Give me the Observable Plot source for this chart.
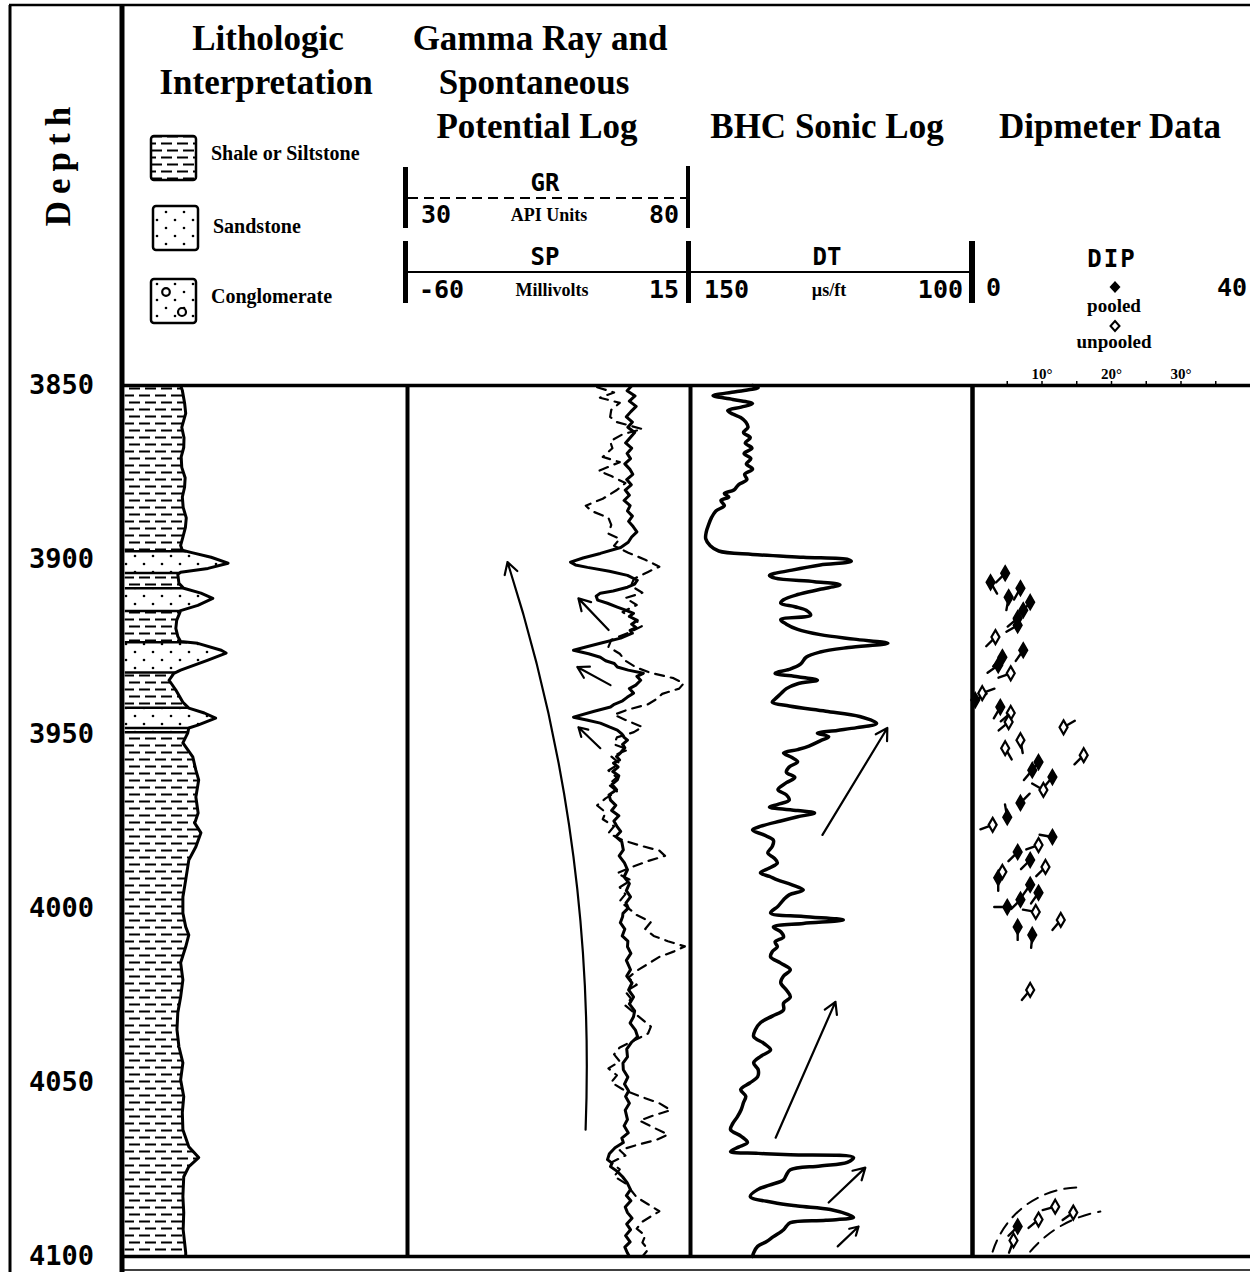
<!DOCTYPE html>
<html>
<head>
<meta charset="utf-8">
<script src="https://cdn.jsdelivr.net/npm/d3@7"></script>
<script src="https://cdn.jsdelivr.net/npm/@observablehq/plot@0.6"></script>
<style>
  html, body { margin: 0; padding: 0; background: #fff; }
  #chart { position: relative; width: 1250px; height: 1272px; overflow: hidden; background: #fff; }
  #chart > svg { position: absolute; top: 0; }
</style>
</head>
<body>
<div id="chart"></div>
<script>
// ---------------- DATA ----------------
const depthDomain = [3850, 4100];
const depthTicks = [3850, 3900, 3950, 4000, 4050, 4100];

// Lithologic interpretation: [depth ft, relative grain-size width]
const lithoCurve = [[3850,19.6],[3851.4,20.2],[3855,21.0],[3858,21.4],[3862,20.0],[3865,20.8],[3867.8,20.7],[3870.5,19.8],[3873.5,20.0],[3876.5,21.2],[3879.2,21.0],[3882,20.2],[3885,20.5],[3888,21.6],[3890.7,21.3],[3893.5,20.4],[3895.9,19.6],[3897.3,20.2],[3897.9,23.2],[3899.3,30.4],[3901.0,36.4],[3902.5,29.3],[3903.6,19.6],[3904.2,18.6],[3906.8,19.0],[3908.2,20.7],[3909.6,26.8],[3911.1,31.0],[3913.1,25.7],[3914.6,19.6],[3917.4,18.2],[3919.7,17.9],[3922,18.6],[3923.5,19.6],[3924,25.7],[3926,34],[3926.8,35.7],[3928.8,29.3],[3931.7,19.6],[3932.6,17.2],[3934.6,15.5],[3937.4,17.9],[3940.9,20.4],[3942.6,22.5],[3944,28],[3945.5,32],[3947.5,25.7],[3948.3,22.5],[3949.8,22.1],[3952.6,20.4],[3956.6,23.9],[3960.4,25],[3963.2,26],[3968.1,25],[3972.7,25.8],[3975.6,24.6],[3978.4,26.8],[3982.4,25],[3986.2,22.5],[3991.9,21.4],[3996.8,20.4],[4001.4,20.4],[4005.4,21.4],[4007.7,22.5],[4011.1,21.4],[4015.7,19.6],[4020.6,20.4],[4025.5,19.6],[4030,18.6],[4034.9,18.3],[4039.8,19],[4044.4,20.4],[4049.3,19.6],[4054.1,20.7],[4058.7,20.2],[4063.6,20.4],[4068.5,22.5],[4071.6,26],[4074.2,22.5],[4077.1,20.7],[4082.8,20.4],[4087.4,20.7],[4092.3,20.5],[4098.9,21.4],[4100,21.4]];
const lithoBedTops  = [3850, 3897.6, 3903.8, 3908.2, 3914.7, 3923.7, 3932.4, 3942.5, 3949.5];
const lithoBedTypes = ["shale","sand","shale","sand","shale","sand","shale","sand","shale"];
const lithoBoundaries = [3897.6, 3903.8, 3908.2, 3914.7, 3923.7, 3932.4, 3942.5, 3948.3, 3949.5];

// Spontaneous potential (mV): [depth, SP]
const spLog = [[3850,-0.5],[3851.5,-1.8],[3853,0.3],[3854.5,-1.2],[3856,0.6],[3857.5,-0.8],[3859,-2.0],[3860.5,-0.4],[3862,-1.6],[3863.5,0.2],[3865,-1.0],[3866.5,-2.2],[3868,-0.6],[3869.5,-1.8],[3871,-0.9],[3872.5,-2.4],[3874,-1.1],[3875.5,-0.3],[3877,-1.9],[3878.5,-0.7],[3880,-2.3],[3881.5,-1.2],[3883,-2.6],[3884.5,-1.0],[3886,-1.7],[3887.5,-0.4],[3889,-1.4],[3890.5,-0.2],[3892,0.8],[3893.5,-0.6],[3895,-1.5],[3896.5,-3.5],[3898.2,-8.9],[3899.5,-13.5],[3900.7,-16.8],[3901.5,-15.5],[3902.2,-12.3],[3903.3,-6.5],[3904.5,-1.7],[3905.9,0.9],[3907,0.2],[3907.9,-1.7],[3909,-5.5],[3909.6,-8.9],[3910.5,-10.0],[3911.6,-9.6],[3912.5,-7.0],[3913.6,-4.4],[3914.5,-2.2],[3915.4,-0.1],[3916.3,-1.2],[3917.4,0.9],[3918.5,-0.6],[3919.5,0.6],[3920.3,-1.0],[3921.1,-0.4],[3922.5,-3.5],[3924.0,-8.9],[3925,-12.5],[3926.0,-16.0],[3927,-12.0],[3928.0,-8.9],[3929,-7.5],[3929.8,-5.2],[3930.8,-4.4],[3931.7,-1.5],[3932.6,2.5],[3933.5,0.8],[3934.6,1.8],[3936,0.5],[3937,-1.2],[3938.3,-0.1],[3939.5,-1.8],[3940.5,-3.0],[3941.5,-5.2],[3942.3,-6.2],[3943.5,-10.5],[3945.2,-16.0],[3946,-12.5],[3946.9,-8.9],[3948,-6.5],[3948.9,-4.4],[3950,-3.2],[3951,-2.6],[3951.8,-1.7],[3953,-3.0],[3954,-2.4],[3955.5,-3.6],[3956.5,-4.6],[3957.5,-3.8],[3958.4,-5.4],[3959.5,-4.2],[3960.8,-5.6],[3962,-4.0],[3963.2,-4.4],[3964.5,-5.8],[3966,-4.6],[3967.5,-6.6],[3969,-6.2],[3970.5,-4.8],[3972,-5.9],[3973.5,-4.0],[3975,-5.3],[3976.7,-4.4],[3978,-3.5],[3979.5,-4.8],[3981,-3.2],[3983.3,-2.8],[3985,-3.9],[3987,-2.5],[3989,-1.7],[3991,-2.6],[3993,-1.2],[3995,-2.0],[3996.8,-0.9],[3998.5,-2.1],[4000,-1.5],[4001.5,-2.9],[4002.5,-3.0],[4004.2,-3.6],[4006,-2.4],[4008,-3.1],[4009.5,-1.6],[4011.1,-1.7],[4013,-0.8],[4015,-2.0],[4017.7,-0.9],[4019.5,-1.9],[4021.5,-0.5],[4023.5,-1.4],[4025.5,-0.1],[4027.5,-1.2],[4029.5,0.2],[4031.2,-0.1],[4033,-1.0],[4035,0.4],[4036.9,1.0],[4038.5,-0.6],[4040.5,-1.9],[4042.7,-1.7],[4044.5,-2.9],[4046.4,-2.8],[4048.5,-1.6],[4050.5,-2.5],[4052.5,-1.4],[4054.1,-2.2],[4056,-1.2],[4058,-2.3],[4060.7,-1.7],[4062.5,-2.6],[4064.5,-1.5],[4066,-3.2],[4067.3,-2.8],[4068.8,-5.0],[4070.5,-6.5],[4072.2,-7.0],[4073.2,-5.8],[4074.2,-6.2],[4075.5,-4.5],[4077.1,-3.0],[4078.8,-1.8],[4080.8,-0.9],[4082.5,-2.0],[4084,-0.8],[4085.8,-2.3],[4087.4,-1.7],[4089,-0.5],[4090.7,-1.9],[4092.3,-0.9],[4094,-2.2],[4095.8,-1.0],[4097.3,-2.4],[4099,-1.7],[4100,-1.2]];

// Gamma ray (API units): [depth, GR]
const grLog = [[3850.5,63.5],[3852,66.5],[3853.5,64],[3855,67.5],[3857,66],[3859,65.8],[3860.5,67],[3862.5,71.5],[3864,68],[3866,65.8],[3868,66.2],[3870.5,64.5],[3872,67.5],[3874.5,63.8],[3876,66],[3878,68.5],[3880,67],[3882.5,64.5],[3884.5,61.5],[3886,62.5],[3888,65.5],[3890,66],[3892.5,65.5],[3894,67.5],[3896,66.5],[3898,69],[3900,72],[3902,74.5],[3903.5,72.5],[3905.5,70],[3907.5,69.5],[3909.5,71.5],[3911,68.5],[3913,70.5],[3915,68],[3917,70],[3919,71.5],[3921,69],[3923,66],[3925,65.5],[3927,67.5],[3929,68.5],[3931,70.5],[3932.5,73],[3934,77],[3935.5,78.8],[3937,78],[3938.5,75],[3940,74],[3941.5,72.5],[3943,69],[3944.5,66.5],[3946,68.5],[3948,71.5],[3949.5,70],[3951,67],[3953,66.5],[3954.5,69],[3956.5,66],[3958.5,67.5],[3960.5,65.5],[3962.5,67],[3964.5,65.5],[3966.5,67],[3968.5,65],[3970.5,63.5],[3972.5,65],[3974.5,64.5],[3976.5,66.5],[3978.5,65.5],[3980.5,68],[3982,71],[3983.5,74.5],[3985,75.5],[3986.5,72.5],[3988,70],[3990,67],[3992,69.5],[3994,67.5],[3996,68.5],[3998,67.5],[4000,69],[4002,70.5],[4004,73],[4006,72],[4008,73.5],[4009.5,76],[4011,79],[4012.5,77],[4014,74.5],[4016,72.5],[4018,70.5],[4020,69],[4022,70.5],[4024,68.5],[4026,69.5],[4028,68.5],[4030,70],[4032,71.5],[4034,73],[4036,72.5],[4038,70],[4040,67.5],[4042,66.5],[4044,67.5],[4046,65.5],[4048,67],[4050,66],[4052,68],[4054,71],[4056,74.5],[4058,76.5],[4059.5,73.5],[4061,71],[4063,73.5],[4065,76],[4066.5,74],[4068,70.5],[4069.5,67.5],[4071,68.5],[4073,66],[4075,67.5],[4077,66.5],[4079,68.5],[4081,69.5],[4083,70.5],[4085,72.5],[4087,74.5],[4088.5,73],[4090,71.5],[4092,70.5],[4094,72],[4096,71.5],[4098,72.5],[4100,71.5]];

// BHC sonic interval transit time (µs/ft): [depth, DT]
const dtLog = [[3850,139],[3850.6,138],[3851.8,142],[3852.9,146],[3854,142.5],[3855.2,139],[3856.2,141],[3857.2,143.4],[3858.2,142.5],[3859.2,141.1],[3860.5,140.2],[3862,139.8],[3863.5,140.6],[3865,139.4],[3866.5,140.3],[3868,139.1],[3869.5,140.5],[3871,139.3],[3872.5,140.1],[3874,139],[3875.5,140.4],[3877,140.0],[3878.5,141.5],[3880,142.3],[3881,144],[3882,143.2],[3883,144.6],[3884.5,144.0],[3886,145.5],[3888,146.3],[3890,146.8],[3892,147.2],[3894,147.3],[3896,146.5],[3897.5,145],[3898.5,139],[3899.3,130],[3900,122],[3900.5,121.5],[3901.5,127],[3903,132],[3904.5,136],[3905.3,135],[3906.3,128],[3907.2,123.5],[3908.5,127],[3910,131],[3911.5,133.5],[3912.5,134],[3913.5,131.5],[3914.5,129.5],[3915.9,128.7],[3917.2,134],[3918.5,133],[3920,131],[3921.5,127],[3922.8,121],[3924,115],[3925.2,122],[3926.5,127],[3928,129.5],[3930,130.5],[3931.5,132.5],[3932.6,135],[3933.6,131],[3934.6,127.5],[3935.6,131],[3937,133],[3938.5,134],[3940,135],[3940.9,135.5],[3942,132.5],[3943.5,126],[3945,120],[3947,117],[3948.2,120.5],[3949,124],[3949.8,127.5],[3950.8,125.5],[3952,127],[3953.5,129],[3954.5,131],[3955.5,133.5],[3956.8,132],[3958,131],[3959.5,132.5],[3961,133],[3962.5,131.5],[3964,133],[3966,134.5],[3967.5,133],[3969,132.5],[3970.2,134.5],[3971,136],[3972,131],[3972.7,128],[3973.8,131],[3975,134],[3976.5,137.5],[3977.6,139],[3979,137],[3980.5,135.3],[3982.3,135.5],[3984.2,136.3],[3985.6,135.2],[3987,134.6],[3988.5,136],[3989.9,137.6],[3990.9,136],[3991.9,134.6],[3993.3,132],[3994.8,130],[3996.2,132.5],[3997.6,133.5],[3999.5,134.5],[4001.4,135.8],[4002.4,130],[4003.4,122.9],[4004.4,130],[4005.4,135.3],[4006.8,134],[4008.3,133.5],[4009.7,135],[4011.1,134.6],[4012.5,135.5],[4014,135.8],[4015.8,134],[4017.7,132.3],[4019.5,133.5],[4021.4,134],[4023.5,133],[4025.5,132.3],[4027.3,133.5],[4029.2,133.5],[4031,135.5],[4032.9,137.6],[4034.9,138.5],[4036.9,138.8],[4038.8,137],[4040.7,135.8],[4042.5,137.5],[4044.4,138.8],[4046.4,138],[4048.4,138.1],[4050.2,139.5],[4052.1,141.1],[4054,140.2],[4055.8,140.6],[4057.8,141],[4059.9,141.7],[4061.8,142.5],[4063.6,142.9],[4065.5,141],[4067.3,139.9],[4068.6,141.5],[4069.9,142.9],[4070.4,138],[4070.8,132.3],[4071.6,121.1],[4073,122.2],[4074,127],[4075.1,132.3],[4076.6,133],[4078,133.5],[4079.5,136],[4080.8,138.1],[4082.8,139.4],[4084.5,135.3],[4085.5,131],[4086.5,125.2],[4088,122],[4088.8,121.1],[4089.6,126],[4090.3,132.3],[4091.3,133],[4092.3,133.5],[4094.3,135.3],[4095.7,136.5],[4097.1,138.1],[4098.9,138.8],[4100,139]];

// Dipmeter tadpoles: [depth, dip°, azimuth° (tail direction)]
const pooledDips = [[3903.9,4.7,225],[3906.5,2.6,150],[3908.2,6.9,210],[3910.8,5.2,190],[3912.2,8.3,220],[3914.5,7.3,225],[3916.8,6.5,230],[3918.8,6.5,240],[3926.0,7.3,215],[3928.0,4.3,225],[3930.3,3.7,235],[3940.3,0.4,60],[3942.3,4.0,210],[3958.1,9.5,220],[3960.4,8.6,220],[3962.4,11.5,220],[3969.8,6.9,45],[3973.9,5.0,350],[3979.6,11.5,280],[3983.9,6.5,225],[3986.2,8.3,225],[3991.3,3.7,180],[3993.3,8.3,215],[3995.6,9.5,215],[3997.6,6.9,225],[3999.7,5.0,270],[4005.4,6.5,180],[4007.7,8.6,185],[4091.4,6.5,225]];
const unpooledDips = [[3922.2,3.3,225],[3932.6,5.5,250],[3938.3,1.4,70],[3944.0,5.5,230],[3946.6,5.2,230],[3948.1,13.1,60],[3951.8,6.9,170],[3954.1,4.7,150],[3956.1,16.0,225],[3966.1,10.2,300],[3976.1,2.9,250],[3981.9,9.5,250],[3988.2,10.5,225],[3989.6,4.3,200],[4001.1,9.1,280],[4003.4,12.7,220],[4023.5,8.3,220],[4095.4,5.9,200],[4089.4,9.5,230],[4085.7,11.9,255],[4087.4,14.5,235]];
const dipTicks = [5, 10, 15, 20, 25, 30, 35];
const dipTickLabels = [10, 20, 30];

// Interpretation arrows: [depth1, value1, depth2, value2]
const spTrendArrow = [[4063.6,-12.8,3900.7,-33.5]];
const spArrows = [[3920.2,-6.7,3911.1,-14.7],[3936.0,-6.2,3930.8,-15.0],[3954.1,-8.9,3948.1,-14.7]];
const dtArrows = [[3979.0,126.6,3948.3,115.1],[4065.9,134.9,4026.9,124.3],[4084.5,125.5,4074.5,119.0],[4097.1,123.9,4091.4,120.2]];
const dipArcOuter = [[4098.6,2.9,4080.2,15.8]];
const dipArcInner = [[4098.6,8.3,4087.1,18.4]];

// ---------------- LAYOUT ----------------
const SERIF = '"Liberation Serif","DejaVu Serif",serif';
const MONO = '"DejaVu Sans Mono","Liberation Mono",monospace';
const W = 1250, H = 1272, MT = 385, MB = 16;
const chart = document.getElementById("chart");

// header / decoration layer
const hdr = d3.create("svg").attr("width", W).attr("height", H).style("left", "0px");
hdr.append("defs").html(`
  <pattern id="shalePat" width="16" height="14" patternUnits="userSpaceOnUse">
    <rect width="16" height="14" fill="white"/>
    <path d="M1 3.5H12 M7 10.5H16 M0 10.5H2" stroke="black" stroke-width="1.8"/>
  </pattern>
  <pattern id="sandPat" width="18" height="16" patternUnits="userSpaceOnUse">
    <rect width="18" height="16" fill="white"/>
    <circle cx="4" cy="4" r="1.3" fill="black"/><circle cx="13" cy="12" r="1.3" fill="black"/>
  </pattern>`);
chart.appendChild(hdr.node());

function txt(s, x, y, o = {}) {
  const t = hdr.append("text").attr("x", x).attr("y", y)
    .attr("font-size", o.size || 20).attr("font-family", o.family || SERIF)
    .attr("font-weight", o.weight || "bold").attr("text-anchor", o.anchor || "middle")
    .attr("dominant-baseline", o.baseline || "central").text(s);
  if (o.spacing) t.attr("letter-spacing", o.spacing);
  if (o.rotate) t.attr("transform", `rotate(${o.rotate},${x},${y})`);
  return t;
}
function rect(x, y, w, h) { hdr.append("rect").attr("x", x).attr("y", y).attr("width", w).attr("height", h).attr("fill", "#000"); }
function line(x1, y1, x2, y2, sw, dash) {
  const l = hdr.append("line").attr("x1", x1).attr("y1", y1).attr("x2", x2).attr("y2", y2).attr("stroke", "#000").attr("stroke-width", sw);
  if (dash) l.attr("stroke-dasharray", dash);
}

// page borders
line(10, 5, 10, H, 3);
line(9, 5, W, 5, 2.5);
line(122, 5, 122, H, 5);
line(122, 1270, W, 1270, 1.5);

// column titles
const T = 35;
txt("Depth", 58, 163, {size: T, rotate: -90, spacing: 7});
txt("Lithologic", 268, 50, {size: T, baseline: "alphabetic"});
txt("Interpretation", 266, 94, {size: T, baseline: "alphabetic"});
txt("Gamma Ray and", 540, 50, {size: T, baseline: "alphabetic"});
txt("Spontaneous", 534, 94, {size: T, baseline: "alphabetic"});
txt("Potential Log", 537, 138, {size: T, baseline: "alphabetic"});
txt("BHC Sonic Log", 827, 138, {size: T, baseline: "alphabetic"});
txt("Dipmeter Data", 1110, 138, {size: T, baseline: "alphabetic"});

// lithology legend
function swatch(x, y, fill) {
  hdr.append("rect").attr("x", x).attr("y", y).attr("width", 45).attr("height", 44).attr("rx", 3)
    .attr("fill", fill).attr("stroke", "#000").attr("stroke-width", 2.5);
}
swatch(151, 136, "url(#shalePat)");
swatch(153, 206, "url(#sandPat)");
swatch(151, 279, "url(#sandPat)");
hdr.append("circle").attr("cx", 166).attr("cy", 292).attr("r", 3.8).attr("fill", "white").attr("stroke", "#000").attr("stroke-width", 2.2);
hdr.append("circle").attr("cx", 182).attr("cy", 312).attr("r", 4).attr("fill", "white").attr("stroke", "#000").attr("stroke-width", 2.2);
txt("Shale or Siltstone", 211, 153, {size: 20, anchor: "start"});
txt("Sandstone", 213, 226, {size: 20, anchor: "start"});
txt("Conglomerate", 211, 296, {size: 20, anchor: "start"});

// GR scale
rect(403, 167, 5, 61); rect(686, 166, 4, 62);
line(408, 198, 686, 198, 1.8, "10,6");
txt("GR", 545, 183, {size: 24, family: MONO});
txt("30", 421, 214, {size: 25, family: MONO, anchor: "start"});
txt("API Units", 549, 215, {size: 18});
txt("80", 679, 214, {size: 25, family: MONO, anchor: "end"});
// SP / DT scale
rect(403, 241, 5, 62); rect(686, 241, 5, 62); rect(969, 241, 6, 62);
line(408, 272, 969, 272, 2.2);
txt("SP", 545, 257, {size: 24, family: MONO});
txt("-60", 419, 289, {size: 25, family: MONO, anchor: "start"});
txt("Millivolts", 552, 290, {size: 18});
txt("15", 679, 289, {size: 25, family: MONO, anchor: "end"});
txt("DT", 827, 257, {size: 24, family: MONO});
txt("150", 704, 289, {size: 25, family: MONO, anchor: "start"});
txt("\u00b5s/ft", 829, 290, {size: 18});
txt("100", 963, 289, {size: 25, family: MONO, anchor: "end"});
// DIP legend
txt("DIP", 1112, 259, {size: 24, family: MONO, spacing: 2});
txt("0", 986, 287, {size: 25, family: MONO, anchor: "start"});
txt("40", 1247, 287, {size: 25, family: MONO, anchor: "end"});
hdr.append("path").attr("d", "M1115,281 L1120.5,287 L1115,293 L1109.5,287 Z").attr("fill", "#000");
txt("pooled", 1114, 305, {size: 19});
hdr.append("path").attr("d", "M1115,321 L1119.5,326 L1115,331 L1110.5,326 Z").attr("fill", "white").attr("stroke", "#000").attr("stroke-width", 2);
txt("unpooled", 1114, 341, {size: 19});

// ---------------- TRACKS (Observable Plot) ----------------
function track(left, width, xDomain, marks) {
  const svg = Plot.plot({
    width, height: H, marginTop: MT, marginBottom: MB, marginLeft: 0, marginRight: 0,
    x: {domain: xDomain, axis: null},
    y: {domain: depthDomain, reverse: true, axis: null},
    style: {background: "transparent", overflow: "visible", fontFamily: SERIF},
    marks
  });
  svg.style.left = left + "px";
  svg.style.top = "0px";
  chart.appendChild(svg);
}
const frameRules = (xDomain) => [
  Plot.ruleY([depthDomain[0], depthDomain[1]], {y: d => d, strokeWidth: 3.5}),
  Plot.ruleX([xDomain[1]], {x: d => d, strokeWidth: 4})
];

// Depth labels
track(0, 122, [0, 1], [
  Plot.text(depthTicks, {y: d => d, frameAnchor: "middle", text: d => String(d), fontSize: 27, fontWeight: "bold", fontFamily: MONO})
]);

// Lithology
function interp(curve, d) {
  for (let i = 0; i < curve.length - 1; i++) {
    const [d0, v0] = curve[i], [d1, v1] = curve[i + 1];
    if (d >= d0 && d <= d1) return d1 === d0 ? v0 : v0 + (v1 - v0) * (d - d0) / (d1 - d0);
  }
  return curve[curve.length - 1][1];
}
function bedPoints(top, bottom) {
  return [[top, interp(lithoCurve, top)], ...lithoCurve.filter(p => p[0] > top && p[0] < bottom), [bottom, interp(lithoCurve, bottom)]];
}
const lithoDomain = [-1, 100];
track(122, 285, lithoDomain, [
  ...lithoBedTops.map((top, i) => {
    const bottom = i + 1 < lithoBedTops.length ? lithoBedTops[i + 1] : depthDomain[1];
    return Plot.areaX(bedPoints(top, bottom), {y: d => d[0], x1: () => 0, x2: d => d[1], fill: `url(#${lithoBedTypes[i]}Pat)`});
  }),
  Plot.ruleY(lithoBoundaries, {y: d => d, x1: () => 0, x2: d => interp(lithoCurve, d), strokeWidth: 2.5}),
  Plot.lineX(lithoCurve, {x: d => d[1], y: d => d[0], strokeWidth: 3, strokeLinejoin: "round"}),
  ...frameRules(lithoDomain)
]);

// SP + GR (two scales, overlaid tracks)
const spDomain = [-60, 15], grDomain = [30, 80];
track(407, 283, spDomain, [
  Plot.lineX(spLog, {x: d => d[1], y: d => d[0], strokeWidth: 3, strokeLinejoin: "round"}),
  Plot.arrow(spTrendArrow, {x1: d => d[1], y1: d => d[0], x2: d => d[3], y2: d => d[2], bend: -10, strokeWidth: 2.2, headLength: 9}),
  Plot.arrow(spArrows, {x1: d => d[1], y1: d => d[0], x2: d => d[3], y2: d => d[2], strokeWidth: 2.2, headLength: 9}),
  ...frameRules(spDomain)
]);
track(407, 283, grDomain, [
  Plot.lineX(grLog, {x: d => d[1], y: d => d[0], strokeWidth: 2.2, strokeDasharray: "9,7"})
]);

// Sonic
const dtDomain = [150, 100];
track(690, 282, dtDomain, [
  Plot.lineX(dtLog, {x: d => d[1], y: d => d[0], strokeWidth: 3.5, curve: "catmull-rom", strokeLinejoin: "round"}),
  Plot.arrow(dtArrows, {x1: d => d[1], y1: d => d[0], x2: d => d[3], y2: d => d[2], strokeWidth: 2.2, headLength: 9}),
  ...frameRules(dtDomain)
]);

// Dipmeter
const dipDomain = [0, 40];
const tail = {draw(context, l) { context.moveTo(0, 0); context.lineTo(0, -l); }};
const dipSvg = Plot.plot({
  width: 278, height: H, marginTop: MT, marginBottom: MB, marginLeft: 0, marginRight: 0,
  x: {domain: dipDomain},
  y: {domain: depthDomain, reverse: true, axis: null},
  style: {background: "transparent", overflow: "visible", fontFamily: SERIF},
  marks: [
    Plot.axisX({anchor: "top", ticks: dipTicks, tickSize: 5, label: null, tickFormat: () => "", strokeWidth: 1.5}),
    Plot.text(dipTickLabels, {x: d => d, frameAnchor: "top", dy: -17, text: d => d + "\u00b0", fontSize: 15, fontWeight: "bold", fontFamily: SERIF}),
    Plot.ruleY([depthDomain[0], depthDomain[1]], {y: d => d, strokeWidth: 3.5}),
    Plot.ruleX([dipDomain[0]], {x: d => d, strokeWidth: 4}),
    Plot.vector([...pooledDips, ...unpooledDips], {x: d => d[1], y: d => d[0], rotate: d => d[2], length: 13, anchor: "start", shape: tail, strokeWidth: 2.4}),
    Plot.dot(pooledDips, {x: d => d[1], y: d => d[0], symbol: "diamond", r: 4.6, fill: "black", stroke: "black", strokeWidth: 1.5}),
    Plot.dot(unpooledDips, {x: d => d[1], y: d => d[0], symbol: "diamond", r: 4.2, fill: "white", stroke: "black", strokeWidth: 2.2}),
    Plot.arrow(dipArcOuter, {x1: d => d[1], y1: d => d[0], x2: d => d[3], y2: d => d[2], bend: 37, headLength: 0, strokeWidth: 2, strokeDasharray: "12,8"}),
    Plot.arrow(dipArcInner, {x1: d => d[1], y1: d => d[0], x2: d => d[3], y2: d => d[2], bend: 20, headLength: 0, strokeWidth: 2, strokeDasharray: "12,8"})
  ]
});
dipSvg.style.left = "972px";
dipSvg.style.top = "0px";
chart.appendChild(dipSvg);
</script>
</body>
</html>
